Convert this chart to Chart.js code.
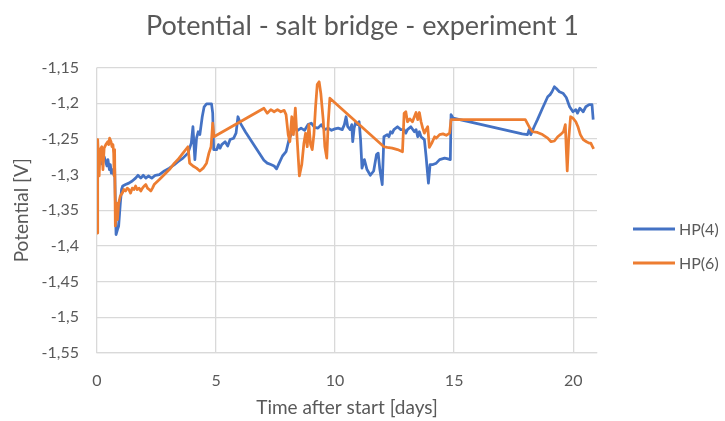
<!DOCTYPE html>
<html>
<head>
<meta charset="utf-8">
<script src="https://cdn.jsdelivr.net/npm/chart.js@4.4.1/dist/chart.umd.min.js"></script>
<style>
  html, body { margin: 0; padding: 0; background: #fff; }
  #wrap { width: 725px; height: 421px; }
</style>
</head>
<body>
<div id="wrap"><canvas id="canvas"></canvas></div>
<script>
// HP(4) - time [days] and potential [V]
var hp4Days = [0.00, 0.05, 0.10, 0.20, 0.30, 0.42, 0.46, 0.52, 0.56, 0.60, 0.66, 0.70, 0.74, 0.80, 0.86, 0.91, 0.98, 1.03, 1.08, 1.20,
  1.34, 1.48, 1.62, 1.72, 1.84, 1.94, 2.05, 2.16, 2.30, 2.45, 2.62, 2.83, 3.04, 3.25, 3.40, 3.61, 3.82, 3.96, 4.03, 4.11,
  4.18, 4.25, 4.32, 4.42, 4.50, 4.60, 4.81, 4.86, 4.90, 5.03, 5.10, 5.17, 5.24, 5.38, 5.49, 5.59, 5.74, 5.84, 5.92, 6.02,
  6.23, 7.01, 7.15, 7.30, 7.44, 7.54, 7.65, 7.79, 7.94, 8.08, 8.22, 8.29, 8.43, 8.57, 8.72, 8.86, 9.00, 9.14, 9.28, 9.42,
  9.57, 9.71, 9.85, 9.99, 10.13, 10.30, 10.39, 10.46, 10.53, 10.63, 10.70, 10.74, 10.80, 10.86, 10.94, 11.01, 11.07, 11.13, 11.23, 11.34,
  11.48, 11.62, 11.74, 11.81, 11.88, 11.98, 12.05, 12.19, 12.26, 12.33, 12.40, 12.47, 12.62, 12.76, 12.90, 12.97, 13.04, 13.18, 13.33, 13.40,
  13.47, 13.54, 13.61, 13.75, 13.82, 13.92, 13.99, 14.11, 14.25, 14.39, 14.60, 14.74, 14.84, 14.87, 14.96, 17.86, 18.08, 18.15, 18.22, 18.36,
  18.50, 18.71, 18.93, 19.03, 19.11, 19.21, 19.28, 19.42, 19.57, 19.71, 19.85, 19.99, 20.11, 20.18, 20.28, 20.42, 20.53, 20.67, 20.79, 20.84];
var hp4Potential = [-1.265, -1.280, -1.270, -1.285, -1.275, -1.288, -1.279, -1.293, -1.286, -1.298, -1.293, -1.300, -1.288, -1.384, -1.377, -1.372, -1.340, -1.321, -1.316, -1.314,
  -1.312, -1.309, -1.305, -1.301, -1.305, -1.301, -1.305, -1.302, -1.305, -1.301, -1.300, -1.295, -1.291, -1.286, -1.282, -1.277, -1.270, -1.256, -1.233, -1.279,
  -1.249, -1.240, -1.244, -1.219, -1.205, -1.201, -1.201, -1.214, -1.265, -1.265, -1.258, -1.263, -1.258, -1.254, -1.260, -1.251, -1.249, -1.242, -1.219, -1.228,
  -1.240, -1.280, -1.284, -1.286, -1.288, -1.292, -1.284, -1.274, -1.268, -1.249, -1.240, -1.235, -1.238, -1.235, -1.238, -1.230, -1.228, -1.234, -1.235, -1.230,
  -1.237, -1.235, -1.238, -1.236, -1.235, -1.237, -1.230, -1.219, -1.233, -1.237, -1.230, -1.254, -1.235, -1.227, -1.230, -1.226, -1.251, -1.291, -1.279, -1.293,
  -1.301, -1.295, -1.272, -1.270, -1.293, -1.314, -1.247, -1.244, -1.247, -1.240, -1.242, -1.237, -1.233, -1.237, -1.237, -1.242, -1.237, -1.233, -1.240, -1.237,
  -1.247, -1.240, -1.247, -1.251, -1.274, -1.312, -1.286, -1.286, -1.284, -1.279, -1.277, -1.278, -1.279, -1.216, -1.221, -1.243, -1.244, -1.237, -1.244, -1.233,
  -1.223, -1.207, -1.191, -1.188, -1.184, -1.177, -1.179, -1.184, -1.186, -1.192, -1.205, -1.212, -1.209, -1.214, -1.207, -1.212, -1.205, -1.202, -1.202, -1.223];

// HP(6) - time [days] and potential [V]
var hp6Days = [0.00, 0.03, 0.09, 0.13, 0.20, 0.25, 0.30, 0.37, 0.45, 0.49, 0.53, 0.59, 0.63, 0.67, 0.70, 0.72, 0.74, 0.77, 0.81, 0.86,
  0.91, 0.98, 1.06, 1.13, 1.20, 1.27, 1.34, 1.41, 1.48, 1.55, 1.62, 1.69, 1.77, 1.84, 1.91, 1.98, 2.05, 2.12, 2.19, 2.26,
  2.33, 2.40, 2.62, 2.83, 3.04, 3.25, 3.40, 3.61, 3.82, 3.89, 4.03, 4.18, 4.32, 4.46, 4.60, 4.70, 4.79, 4.86, 4.91, 7.01,
  7.15, 7.30, 7.44, 7.58, 7.72, 7.86, 7.94, 8.03, 8.10, 8.18, 8.25, 8.33, 8.40, 8.50, 8.60, 8.69, 8.76, 8.83, 8.90, 8.97,
  9.04, 9.11, 9.18, 9.25, 9.33, 9.40, 9.50, 9.57, 9.65, 9.71, 9.78, 12.05, 12.19, 12.40, 12.62, 12.83, 12.90, 12.97, 13.04, 13.14,
  13.25, 13.33, 13.40, 13.47, 13.54, 13.61, 13.68, 13.75, 13.82, 13.89, 13.96, 14.06, 14.18, 14.25, 14.39, 14.53, 14.67, 14.81, 14.87, 15.03,
  17.99, 18.18, 18.29, 18.50, 18.71, 18.93, 19.07, 19.21, 19.35, 19.50, 19.59, 19.67, 19.71, 19.75, 19.81, 19.89, 19.99, 20.11, 20.20, 20.30,
  20.42, 20.56, 20.67, 20.74, 20.80, 20.86];
var hp6Potential = [-1.382, -1.251, -1.302, -1.265, -1.261, -1.293, -1.263, -1.258, -1.254, -1.258, -1.249, -1.254, -1.261, -1.258, -1.270, -1.302, -1.265, -1.372, -1.340, -1.363,
  -1.340, -1.330, -1.326, -1.321, -1.323, -1.319, -1.321, -1.326, -1.319, -1.321, -1.316, -1.321, -1.319, -1.323, -1.319, -1.316, -1.314, -1.319, -1.321, -1.323,
  -1.319, -1.314, -1.307, -1.300, -1.293, -1.284, -1.279, -1.270, -1.261, -1.284, -1.288, -1.291, -1.295, -1.291, -1.284, -1.270, -1.261, -1.228, -1.247, -1.207,
  -1.214, -1.209, -1.212, -1.209, -1.212, -1.210, -1.216, -1.244, -1.254, -1.219, -1.244, -1.207, -1.247, -1.302, -1.286, -1.256, -1.242, -1.261, -1.230, -1.258,
  -1.265, -1.244, -1.205, -1.174, -1.170, -1.186, -1.223, -1.261, -1.277, -1.228, -1.193, -1.261, -1.262, -1.263, -1.265, -1.268, -1.214, -1.212, -1.226, -1.222,
  -1.226, -1.219, -1.213, -1.223, -1.213, -1.226, -1.235, -1.242, -1.237, -1.233, -1.262, -1.256, -1.247, -1.249, -1.244, -1.243, -1.245, -1.242, -1.223, -1.223,
  -1.223, -1.235, -1.240, -1.241, -1.244, -1.249, -1.254, -1.253, -1.247, -1.243, -1.240, -1.230, -1.265, -1.295, -1.251, -1.219, -1.221, -1.226, -1.233, -1.244,
  -1.251, -1.254, -1.256, -1.256, -1.260, -1.264];

var seriesNames = ['HP(4)', 'HP(6)'];
var seriesColors = ['#4472C4', '#ED7D31'];
var xTicks = [0, 5, 10, 15, 20];
var chartTitle = 'Potential - salt bridge - experiment 1';

var textColor = '#595959';
var gridColor = '#d9d9d9';
var fontFamily = 'Lato, "Open Sans", sans-serif';

function toPoints(days, values) {
  return days.map(function(d, i) {
    return { x: d, y: values[i] };
  });
}

// Excel style numbers: decimal comma, no trailing zeros
function commaNumber(v) {
  return String(Math.round(v * 100) / 100).replace('.', ',');
}

// title centred on the whole canvas and the legend on the right,
// both drawn by hand so the plot area can keep its right margin
var titleAndLegend = {
  id: 'titleAndLegend',
  afterDraw: function(chart) {
    var ctx = chart.ctx;
    ctx.save();
    ctx.fillStyle = textColor;
    ctx.textAlign = 'center';
    ctx.textBaseline = 'middle';
    ctx.font = '27px ' + fontFamily;
    ctx.fillText(chartTitle, chart.width / 2, 26);

    var rows = [229, 263];
    ctx.textAlign = 'left';
    ctx.font = '16px ' + fontFamily;
    ctx.lineCap = 'butt';
    for (var i = 0; i < seriesNames.length; i++) {
      ctx.strokeStyle = seriesColors[i];
      ctx.lineWidth = 3;
      ctx.beginPath();
      ctx.moveTo(633, rows[i]);
      ctx.lineTo(675, rows[i]);
      ctx.stroke();
      ctx.fillStyle = textColor;
      ctx.fillText(seriesNames[i], 679, rows[i] + 1);
    }
    ctx.restore();
  }
};

var ctxL = document.getElementById('canvas').getContext('2d');
var mychart = new Chart(ctxL, {
  type: 'scatter',
  data: {
    datasets: [{
        label: seriesNames[0],
        data: toPoints(hp4Days, hp4Potential),
        borderColor: seriesColors[0],
        backgroundColor: seriesColors[0],
        borderWidth: 2.75,
        showLine: true,
        pointRadius: 0,
        borderJoinStyle: 'round',
        order: 1
      },
      {
        label: seriesNames[1],
        data: toPoints(hp6Days, hp6Potential),
        borderColor: seriesColors[1],
        backgroundColor: seriesColors[1],
        borderWidth: 2.75,
        showLine: true,
        pointRadius: 0,
        borderJoinStyle: 'round',
        order: 0
      }
    ]
  },
  options: {
    responsive: true,
    maintainAspectRatio: false,
    animation: false,
    layout: {
      padding: { left: 0, right: 128, top: 67.5, bottom: 0 }
    },
    plugins: {
      legend: { display: false },
      tooltip: { enabled: false },
      title: { display: false }
    },
    scales: {
      x: {
        type: 'linear',
        min: 0,
        max: 21,
        afterBuildTicks: function(axis) {
          axis.ticks = xTicks.map(function(v) { return { value: v }; });
        },
        afterFit: function(axis) { axis.height = 68; },
        grid: { color: gridColor, lineWidth: 1.3, drawTicks: false },
        border: { color: gridColor, width: 1.3 },
        ticks: {
          color: textColor,
          padding: 18,
          font: { family: fontFamily, size: 16 }
        },
        title: {
          display: true,
          text: 'Time after start [days]',
          color: textColor,
          font: { family: fontFamily, size: 19 },
          padding: { top: 4, bottom: 1.5 }
        }
      },
      y: {
        min: -1.55,
        max: -1.15,
        afterFit: function(axis) { axis.width = 97; },
        grid: { color: gridColor, lineWidth: 1.3, drawTicks: false },
        border: { display: false },
        ticks: {
          stepSize: 0.05,
          color: textColor,
          padding: 18,
          font: { family: fontFamily, size: 16 },
          callback: function(value) { return commaNumber(value); }
        },
        title: {
          display: true,
          text: 'Potential [V]',
          color: textColor,
          font: { family: fontFamily, size: 19 },
          padding: { top: 10.5, bottom: 4 }
        }
      }
    }
  },
  plugins: [titleAndLegend]
});
</script>
</body>
</html>
